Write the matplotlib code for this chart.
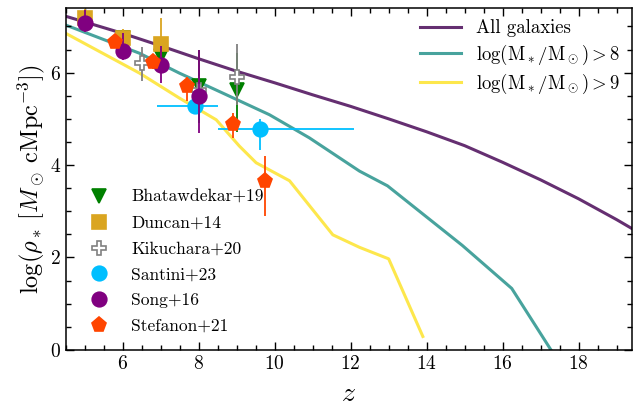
import matplotlib
matplotlib.use("Agg")
import matplotlib.pyplot as plt
from matplotlib.ticker import MultipleLocator

plt.rcParams["font.family"] = "serif"
plt.rcParams["font.serif"] = ["cmr10"]
plt.rcParams["mathtext.fontset"] = "cm"
plt.rcParams["axes.formatter.use_mathtext"] = True

# simulation curves: log stellar mass density vs redshift
z_all = [4.5, 6.0, 7.0, 8.0, 9.0, 10.0, 11.0, 12.0, 13.0, 14.0, 15.0, 16.0, 17.0, 18.0, 19.0, 19.5]
rho_all = [7.22, 6.85, 6.58, 6.30, 6.03, 5.78, 5.52, 5.27, 5.00, 4.72, 4.42, 4.06, 3.68, 3.27, 2.82, 2.58]

z_m8 = [4.5, 6.44, 7.49, 8.6, 9.86, 10.91, 12.23, 12.97, 14.94, 16.24, 17.35]
rho_m8 = [7.03, 6.42, 5.99, 5.57, 5.09, 4.59, 3.87, 3.55, 2.26, 1.33, -0.1]

z_m9 = [4.5, 6.44, 7.49, 8.46, 9.07, 9.51, 10.39, 11.53, 12.23, 13.0, 13.9]
rho_m9 = [6.85, 5.99, 5.45, 4.98, 4.41, 4.05, 3.66, 2.49, 2.22, 1.97, 0.29]

# observations
bhat_z = [6.0, 7.0, 8.0, 9.0]
bhat_y = [6.75, 6.35, 5.72, 5.62]
bhat_lo = [0.15, 0.3, 0.8, 0.9]
bhat_hi = [0.15, 0.3, 0.77, 0.8]

dunc_z = [5.0, 6.0, 7.0]
dunc_y = [7.18, 6.74, 6.63]
dunc_lo = [0.2, 0.2, 0.5]
dunc_hi = [0.2, 0.2, 0.55]

kiku_z = [6.5, 8.0, 9.0]
kiku_y = [6.2, 5.63, 5.91]
kiku_lo = [0.39, 0.3, 0.6]
kiku_hi = [0.36, 0.3, 0.72]

sant_z = [7.9, 9.6]
sant_y = [5.28, 4.79]
sant_zlo = [1.0, 1.1]
sant_zhi = [0.6, 2.5]
sant_lo = [0.1, 0.46]
sant_hi = [0.1, 0.2]

song_z = [5.0, 6.0, 7.0, 8.0]
song_y = [7.07, 6.47, 6.17, 5.5]
song_lo = [0.19, 0.2, 0.4, 0.8]
song_hi = [0.28, 0.38, 0.4, 0.99]

stef_z = [5.8, 6.8, 7.7, 8.9, 9.75]
stef_y = [6.67, 6.24, 5.72, 4.89, 3.66]
stef_lo = [0.1, 0.15, 0.34, 0.3, 0.76]
stef_hi = [0.1, 0.15, 0.19, 0.24, 0.53]

fig = plt.figure(figsize=(6.33, 4.2), dpi=100)
ax = fig.add_axes([0.104, 0.167, 0.894, 0.814])

l1, = ax.plot(z_all, rho_all, color="#652f71", lw=2.2, zorder=1, label="All galaxies")
l2, = ax.plot(z_m8, rho_m8, color="#48a39d", lw=2.2, zorder=1,
              label=r"$\log(\mathrm{M_*/M_\odot}) > 8$")
l3, = ax.plot(z_m9, rho_m9, color="#fde74c", lw=2.2, zorder=1,
              label=r"$\log(\mathrm{M_*/M_\odot}) > 9$")

obs = [
    ("Bhatawdekar+19", bhat_z, bhat_y, None, [bhat_lo, bhat_hi], "green", "v", 9.5, "green"),
    ("Duncan+14", dunc_z, dunc_y, None, [dunc_lo, dunc_hi], "#daa520", "s", 9.5, "#daa520"),
    ("Kikuchara+20", kiku_z, kiku_y, None, [kiku_lo, kiku_hi], "gray", "P", 9.5, "white"),
    ("Santini+23", sant_z, sant_y, [sant_zlo, sant_zhi], [sant_lo, sant_hi], "#00bfff", "o", 10.5, "#00bfff"),
    ("Song+16", song_z, song_y, None, [song_lo, song_hi], "purple", "o", 10.5, "purple"),
    ("Stefanon+21", stef_z, stef_y, None, [stef_lo, stef_hi], "#ff4500", "p", 11, "#ff4500"),
]
handles = []
for k, (name, z, y, xerr, yerr, c, m, ms, fc) in enumerate(obs):
    ax.errorbar(z, y, xerr=xerr, yerr=yerr, fmt="none", ecolor=c, elinewidth=1.3,
                zorder=3 + k)
    h, = ax.plot(z, y, ls="none", marker=m, ms=ms, color=c, mfc=fc, mec=c,
                 mew=1.2, zorder=3 + k, label=name)
    handles.append(h)

ax.set_xlim(4.5, 19.4)
ax.set_ylim(0, 7.4)
ax.xaxis.set_major_locator(MultipleLocator(2))
ax.xaxis.set_minor_locator(MultipleLocator(0.5))
ax.yaxis.set_major_locator(MultipleLocator(2))
ax.yaxis.set_minor_locator(MultipleLocator(0.5))
ax.tick_params(which="both", direction="in", top=True, right=True, labelsize=14, width=1)
ax.tick_params(which="major", length=6)
ax.tick_params(which="minor", length=3.5)
for s in ax.spines.values():
    s.set_linewidth(1.1)

ax.set_xlabel(r"$z$", fontsize=20, labelpad=6)
ax.set_ylabel(r"$\log(\rho_* \; [M_\odot \; \mathrm{cMpc}^{-3}])$", fontsize=17.5, labelpad=2)

leg1 = ax.legend(handles=[l1, l2, l3], loc="upper right", frameon=False, fontsize=13.5,
                 handlelength=2.2, labelspacing=0.28, borderaxespad=0.2)
ax.add_artist(leg1)
ax.legend(handles=handles, loc="lower left", frameon=False, fontsize=12.6,
          labelspacing=0.6, handletextpad=0.85, borderaxespad=0.5)

fig.savefig("out.png", dpi=100)
